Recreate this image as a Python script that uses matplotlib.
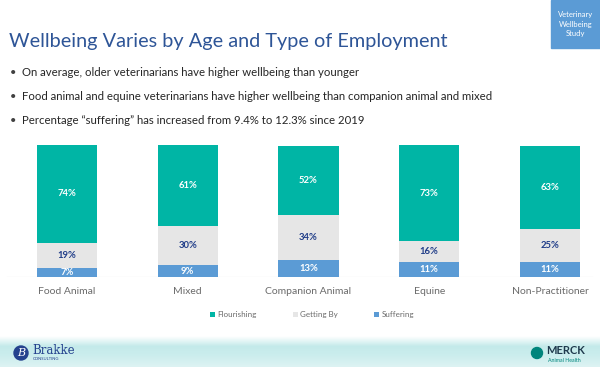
import numpy as np
import matplotlib.pyplot as plt
from matplotlib.patches import Rectangle, Circle
from matplotlib.colors import LinearSegmentedColormap

plt.rcParams['font.family'] = ['Lato', 'DejaVu Sans']

categories = ['Food Animal', 'Mixed', 'Companion Animal', 'Equine', 'Non-Practitioner']
suffering = [7, 9, 13, 11, 11]
getting_by = [19, 30, 34, 16, 25]
flourishing = [74, 61, 52, 73, 63]
series_names = ['Flourishing', 'Getting By', 'Suffering']

title = 'Wellbeing Varies by Age and Type of Employment'
bullets = ['On average, older veterinarians have higher wellbeing than younger',
           'Food animal and equine veterinarians have higher wellbeing than companion animal and mixed',
           'Percentage \u201csuffering\u201d has increased from 9.4% to 12.3% since 2019']

green = '#00B5A5'
grey = '#E6E6E6'
blue = '#5B9BD5'
navy = '#1F3C88'

W, H = 600, 367
fig = plt.figure(figsize=(6, 3.67), dpi=100)

# background / footer band
bg = fig.add_axes([0, 0, 1, 1])
grad = np.linspace(0, 1, 60).reshape(-1, 1)
cmap = LinearSegmentedColormap.from_list('band', ['#FFFFFF', '#C3EAEA', '#CDEEEE', '#DDF3F3'])
bg.imshow(grad, cmap=cmap, extent=[0, W, 367, 336], aspect='auto', zorder=0)
bg.set_xlim(0, W)
bg.set_ylim(H, 0)
bg.axis('off')

# top-right box
bg.add_patch(Rectangle((551, 0), 49, 48, color=blue, zorder=1))
bg.text(575.5, 24, 'Veterinary\nWellbeing\nStudy', color='white', fontsize=5.5,
        ha='center', va='center', linespacing=1.35, zorder=2)

bg.text(9, 42, title, color='#2E5597', fontsize=14.3, ha='left', va='center')
for i, b in enumerate(bullets):
    y = 72 + i * 24.5
    bg.text(10, y, '\u2022', color='#404040', fontsize=8, ha='left', va='center')
    bg.text(22, y, b, color='#262626', fontsize=8.2, ha='left', va='center')

# logos
bg.add_patch(Circle((21, 353), 7, color='#24428E', zorder=2))
bg.text(21, 353, 'B', color='white', fontsize=8, ha='center', va='center',
        family='DejaVu Serif', style='italic', zorder=3)
bg.text(32, 350, 'Brakke', color='#24428E', fontsize=8.5, ha='left', va='center',
        family='DejaVu Serif')
bg.text(33, 359, 'CONSULTING', color='#24428E', fontsize=3, ha='left', va='center')
bg.add_patch(Circle((537, 353), 5.5, color='#00857C', zorder=2))
bg.text(546, 351, 'MERCK', color='#1F3A4D', fontsize=8, weight='bold', ha='left', va='center')
bg.text(548, 361, 'Animal Health', color='#00857C', fontsize=3.8, ha='left', va='center')

# chart
ax = fig.add_axes([0, (H - 277) / H, 1, (277 - 145) / H])
x = np.arange(len(categories))
bw = 0.5
ax.bar(x, suffering, bw, color=blue, label=series_names[2], zorder=2)
ax.bar(x, getting_by, bw, bottom=suffering, color=grey, label=series_names[1], zorder=2)
bot2 = np.array(suffering) + np.array(getting_by)
ax.bar(x, flourishing, bw, bottom=bot2, color=green, label=series_names[0], zorder=2)

for i in range(len(categories)):
    ax.text(x[i], suffering[i] / 2, f'{suffering[i]}%', color='white', fontsize=6.8,
            weight='bold', ha='center', va='center', zorder=3)
    ax.text(x[i], suffering[i] + getting_by[i] / 2, f'{getting_by[i]}%', color=navy,
            fontsize=6.8, weight='bold', ha='center', va='center', zorder=3)
    ax.text(x[i], bot2[i] + flourishing[i] / 2, f'{flourishing[i]}%', color='white',
            fontsize=6.8, weight='bold', ha='center', va='center', zorder=3)

ax.set_xlim(-67 / 120.75, (600 - 67) / 120.75)
ax.set_ylim(0, 100)
ax.axhline(0, xmin=7 / 600, xmax=592 / 600, color='#D9D9D9', lw=0.8, zorder=1)
for s in ax.spines.values():
    s.set_visible(False)
ax.set_yticks([])
ax.set_xticks(x)
ax.set_xticklabels(categories, color='#6B6B6B', fontsize=7.5)
ax.tick_params(axis='x', length=0, pad=7)
ax.patch.set_alpha(0)

handles, labels = ax.get_legend_handles_labels()
fig.legend(handles[::-1], labels[::-1], loc='center', bbox_to_anchor=(312 / W, 1 - 315 / H),
           ncol=3, frameon=False, fontsize=5.8, labelcolor='#6B6B6B', handlelength=0.6,
           handleheight=0.6, handletextpad=0.3, columnspacing=4.5)

fig.savefig('out.png', dpi=100)
